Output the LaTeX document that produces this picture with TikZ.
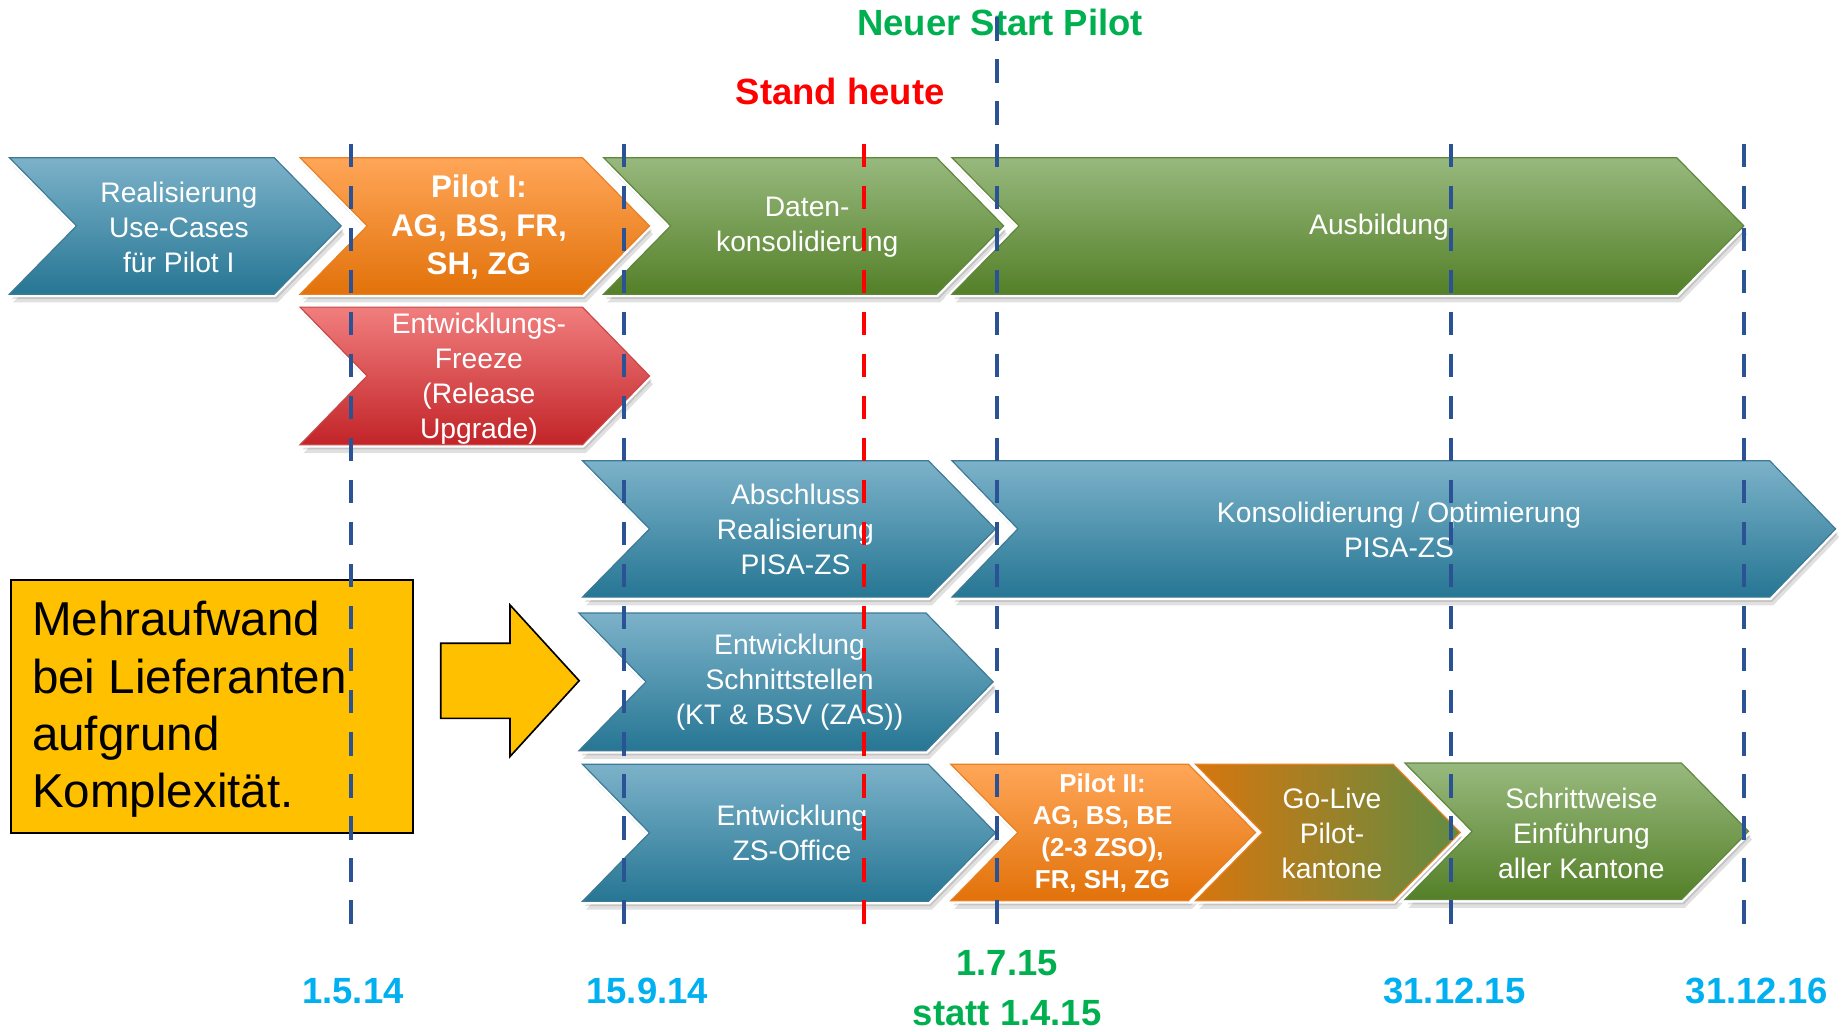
\documentclass[tikz,border=0pt]{standalone}
\usepackage{fontspec}
\setmainfont{Liberation Sans}
\definecolor{bluetop}{RGB}{124,178,201}
\definecolor{bluebot}{RGB}{38,118,148}
\definecolor{blueedge}{RGB}{62,122,150}
\definecolor{orangetop}{RGB}{255,166,88}
\definecolor{orangebot}{RGB}{226,114,10}
\definecolor{orangeedge}{RGB}{232,128,36}
\definecolor{greentop}{RGB}{152,185,126}
\definecolor{greenbot}{RGB}{84,128,40}
\definecolor{greenedge}{RGB}{96,134,62}
\definecolor{redtop}{RGB}{241,126,126}
\definecolor{redbot}{RGB}{194,36,40}
\definecolor{rededge}{RGB}{200,72,72}
\definecolor{goleft}{RGB}{214,118,14}
\definecolor{gomid}{RGB}{160,128,44}
\definecolor{goright}{RGB}{98,140,66}
\definecolor{lineblue}{RGB}{44,82,150}
\definecolor{datered}{RGB}{255,0,0}
\definecolor{dateblue}{RGB}{0,176,240}
\definecolor{dategreen}{RGB}{0,176,80}
\definecolor{noteyellow}{RGB}{255,192,0}
\tikzset{
  ct/.style={text=white, align=center, inner sep=0pt, font=\fontsize{12}{14.85}\selectfont},
  ctb/.style={ct, font=\bfseries\fontsize{13.3}{16.3}\selectfont},
  ctc/.style={ct, font=\bfseries\fontsize{11}{13.5}\selectfont},
  blueshape/.style={top color=bluetop, bottom color=bluebot, draw=blueedge, line width=0.5pt},
  orangeshape/.style={top color=orangetop, bottom color=orangebot, draw=orangeedge, line width=0.5pt},
  greenshape/.style={top color=greentop, bottom color=greenbot, draw=greenedge, line width=0.5pt},
  redshape/.style={top color=redtop, bottom color=redbot, draw=rededge, line width=0.5pt},
  goshape/.style={left color=goleft, middle color=gomid, right color=goright, draw=orangeedge, line width=0.5pt},
  chevshadow/.style={fill=black, opacity=0.12},
  dateline/.style={line width=1.7pt, dash pattern=on 10pt off 7.86pt},
  lineshadow/.style={dateline, draw=black, opacity=0.18},
  lbl/.style={font=\bfseries\fontsize{15.5}{18}\selectfont, inner sep=0pt, anchor=base},
}
% #1 left, #2 top-right x, #3 top, #4 bottom, #5 tip depth, #6 style
\newcommand{\chevshape}[6]{%
  \path[chevshadow, shift={(2,4)}] (#1,#3) -- (#2,#3) -- (#2+#5,{(#3+#4)/2}) -- (#2,#4) -- (#1,#4) -- (#1+#5,{(#3+#4)/2}) -- cycle;
  \path[chevshadow, shift={(3,7)}] (#1,#3) -- (#2,#3) -- (#2+#5,{(#3+#4)/2}) -- (#2,#4) -- (#1,#4) -- (#1+#5,{(#3+#4)/2}) -- cycle;
  \path[draw=white, line width=2.5pt] (#1,#3) -- (#2,#3) -- (#2+#5,{(#3+#4)/2}) -- (#2,#4) -- (#1,#4) -- (#1+#5,{(#3+#4)/2}) -- cycle;
  \path[#6] (#1,#3) -- (#2,#3) -- (#2+#5,{(#3+#4)/2}) -- (#2,#4) -- (#1,#4) -- (#1+#5,{(#3+#4)/2}) -- cycle;
}
\begin{document}
\begin{tikzpicture}[x=0.5pt, y=-0.5pt]
\useasboundingbox (0,0) rectangle (1568,877);
\fill[white] (0,0) rectangle (1568,877);

% row 1
\chevshape{8}{233}{134}{250}{57}{blueshape}
\node[ct] (realis) at (152,193) {Realisierung\\Use-Cases\\für Pilot I};
\chevshape{255}{495}{134}{250}{57}{orangeshape}
\node[ctb] (pilot1) at (407,193) {Pilot I:\\AG, BS, FR,\\SH, ZG};
\chevshape{513}{796}{134}{250}{57}{greenshape}
\node[ct] (daten) at (686,193) {Daten-\\konsolidierung};
\chevshape{809}{1425}{134}{250}{57}{greenshape}
\node[ct] (ausb) at (1172,193) {Ausbildung};

% row 2
\chevshape{255}{495}{261}{378}{57}{redshape}
\node[ct] (freeze) at (407,322) {Entwicklungs-\\Freeze\\(Release\\Upgrade)};

% row 3
\chevshape{495}{789}{391.5}{507.5}{57}{blueshape}
\node[ct] (abschl) at (676,450) {Abschluss\\Realisierung\\PISA-ZS};
\chevshape{809}{1504}{391.5}{507.5}{56}{blueshape}
\node[ct] (konsol) at (1189,450) {Konsolidierung / Optimierung\\PISA-ZS};

% row 4
\chevshape{492}{787}{521}{638}{57}{blueshape}
\node[ct] (schnitt) at (671,580) {Entwicklung\\Schnittstellen\\(KT \& BSV (ZAS))};

% row 5
\chevshape{495}{789}{649.5}{766}{57}{blueshape}
\node[ct] (zsoff) at (673,708) {Entwicklung\\ZS-Office};
\chevshape{808}{1010}{649.5}{765.5}{57}{orangeshape}
\node[ctc] (pilot2) at (937,708) {Pilot II:\\AG, BS, BE\\(2-3 ZSO),\\FR, SH, ZG};
\chevshape{1016}{1184}{649.5}{765.5}{57}{goshape}
\node[ct] (golive) at (1132,708) {Go-Live\\Pilot-\\kantone};
\chevshape{1194}{1429}{648.5}{764.5}{57}{greenshape}
\node[ct] (schritt) at (1344,708) {Schrittweise\\Einführung\\aller Kantone};

% note box and arrow
\node[draw=black, line width=0.7pt, fill=noteyellow, minimum width=170.8pt, minimum height=107.6pt, inner sep=0pt] (notebox) at (180.2,600.5) {};
\node[anchor=west, align=left, inner sep=0pt, font=\fontsize{20.2}{24.4}\selectfont] (notetext) at (26.9,603) {Mehraufwand\\bei Lieferanten\\aufgrund\\Komplexität.};
\draw[line width=0.7pt, fill=noteyellow] (374.6,546.7) -- (433.4,546.7) -- (433.4,514.1) -- (492.2,578.5) -- (433.4,643) -- (433.4,610.5) -- (374.6,610.5) -- cycle;

% top labels
\node[lbl, text=dategreen] (neuerstart) at (850,30.5) {Neuer Start Pilot};
\node[lbl, text=datered] (standheute) at (714,89) {Stand heute};

% date lines
\coordinate (l1t) at (298,122);   \coordinate (l1b) at (298,785);
\coordinate (l2t) at (530,122);   \coordinate (l2b) at (530,785);
\coordinate (l3t) at (734.5,122); \coordinate (l3b) at (734.5,785);
\coordinate (l4t) at (847,14.8);  \coordinate (l4b) at (847,785);
\coordinate (l5t) at (1233,122);  \coordinate (l5b) at (1233,785);
\coordinate (l6t) at (1482,122);  \coordinate (l6b) at (1482,785);
\foreach \a/\b in {l1t/l1b, l2t/l2b, l3t/l3b, l4t/l4b, l5t/l5b, l6t/l6b}{
  \draw[lineshadow, shift={(1.5,3)}] (\a) -- (\b);
}
\draw[dateline, draw=lineblue] (l1t) -- (l1b);
\draw[dateline, draw=lineblue] (l2t) -- (l2b);
\draw[dateline, draw=datered] (l3t) -- (l3b);
\draw[dateline, draw=lineblue] (l4t) -- (l4b);
\draw[dateline, draw=lineblue] (l5t) -- (l5b);
\draw[dateline, draw=lineblue] (l6t) -- (l6b);

% bottom labels
\node[lbl, text=dateblue] (d1) at (300,853) {1.5.14};
\node[lbl, text=dateblue] (d2) at (550,853) {15.9.14};
\node[lbl, text=dategreen] (d3) at (856,829) {1.7.15};
\node[lbl, text=dategreen] (d3b) at (856,871.5) {statt 1.4.15};
\node[lbl, text=dateblue] (d4) at (1236,853) {31.12.15};
\node[lbl, text=dateblue] (d5) at (1493,853) {31.12.16};
\end{tikzpicture}
\end{document}
